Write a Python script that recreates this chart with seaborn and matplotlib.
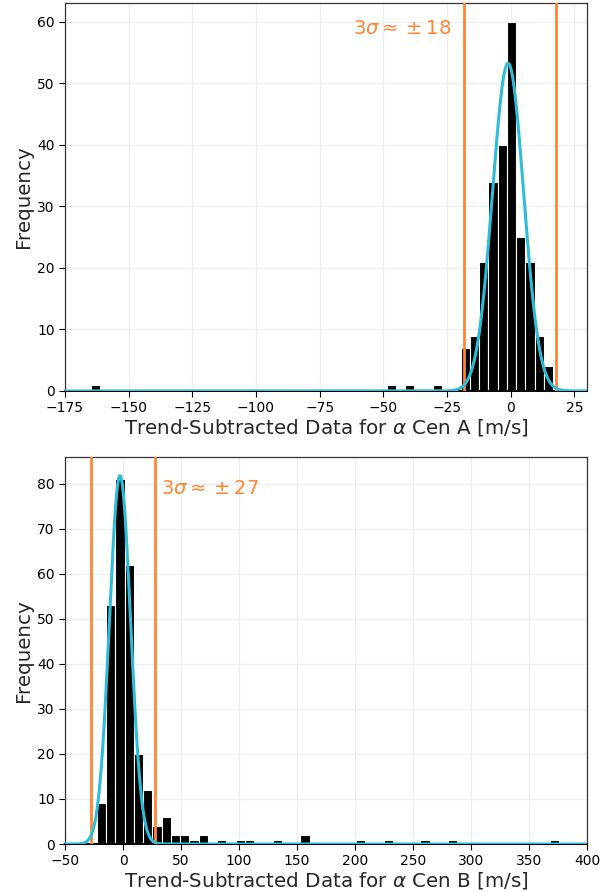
import numpy as np
import pandas as pd
import matplotlib
matplotlib.use('Agg')
import matplotlib.pyplot as plt
import seaborn as sns

# Histogram of trend-subtracted data, alpha Cen A (50 bins)
edges_a = np.linspace(-164.8, 16.7, 51)
counts_a = [1, 0, 0, 0, 0, 0, 0, 0, 0, 0,
            0, 0, 0, 0, 0, 0, 0, 0, 0, 0,
            0, 0, 0, 0, 0, 0, 0, 0, 0, 0,
            0, 0, 1, 0, 1, 0, 0, 1, 0, 0,
            7, 9, 21, 34, 40, 60, 25, 21, 9, 4]
fit_a = {'mu': -1.0, 'sigma': 6.1, 'amp': 53.2}
lines_a = [-18.4, 18.0]

# alpha Cen B (50 bins)
edges_b = np.linspace(-22.5, 376.0, 51)
counts_b = [9, 53, 81, 62, 20, 12, 4, 6, 2, 2,
            1, 2, 0, 1, 0, 1, 1, 0, 0, 1,
            0, 0, 2, 0, 0, 0, 0, 0, 1, 0,
            0, 1, 0, 0, 0, 1, 0, 0, 1, 0,
            0, 0, 0, 0, 0, 0, 0, 0, 0, 1]
fit_b = {'mu': -2.6, 'sigma': 9.1, 'amp': 81.8}
lines_b = [-27.6, 27.6]

orange = '#FF8533'
cyan = '#31BCD6'

sns.set_style('white')
plt.rcParams['font.family'] = ['DejaVu Sans']
plt.rcParams['mathtext.fontset'] = 'dejavusans'

fig = plt.figure(figsize=(6.15, 8.92), dpi=100)
ax1 = fig.add_axes([0.1057, 0.5617, 0.8488, 0.4349])
ax2 = fig.add_axes([0.1057, 0.0538, 0.8488, 0.4342])


def panel(ax, edges, counts, fit, lines, label, xlim, ylim, xticks, yticks):
    centers = (edges[:-1] + edges[1:]) / 2
    df = pd.DataFrame({'value': centers, 'count': counts})
    sns.histplot(data=df, x='value', weights='count', bins=list(edges), ax=ax,
                 color='black', edgecolor='white', linewidth=0.8, alpha=1,
                 zorder=2)
    xs = np.linspace(xlim[0], xlim[1], 1000)
    ys = fit['amp'] * np.exp(-0.5 * ((xs - fit['mu']) / fit['sigma']) ** 2)
    sns.lineplot(x=xs, y=ys, ax=ax, color=cyan, linewidth=2.2, zorder=4)
    for xv in lines:
        ax.axvline(xv, color=orange, linewidth=2, zorder=3)
    ax.set_xlim(xlim)
    ax.set_ylim(ylim)
    ax.set_xticks(xticks)
    ax.set_yticks(yticks)
    ax.grid(True, color='#EEEEEE', linewidth=0.9, zorder=0)
    ax.set_axisbelow(True)
    for s in ax.spines.values():
        s.set_visible(True)
        s.set_color('#333333')
        s.set_linewidth(0.9)
    ax.spines['bottom'].set_color('black')
    ax.spines['bottom'].set_linewidth(1.4)
    ax.tick_params(direction='out', length=4, width=0.8, labelsize=10,
                   bottom=True, left=True, colors='black')
    ax.set_xlabel(label, fontsize=14.3, labelpad=1)
    ax.set_ylabel('Frequency', fontsize=14.3, labelpad=3)


panel(ax1, edges_a, counts_a, fit_a, lines_a,
      r'Trend-Subtracted Data for $\alpha$ Cen A [m/s]',
      (-175, 30), (0, 63), np.arange(-175, 30, 25), np.arange(0, 61, 10))
ax1.text(-23.5, 58.8, r'$3\sigma \approx \pm 18$', color=orange, fontsize=14,
         ha='right', va='center')

panel(ax2, edges_b, counts_b, fit_b, lines_b,
      r'Trend-Subtracted Data for $\alpha$ Cen B [m/s]',
      (-50, 400), (0, 86), np.arange(-50, 401, 50), np.arange(0, 81, 10))
ax2.text(33.0, 79, r'$3\sigma \approx \pm 27$', color=orange, fontsize=14,
         ha='left', va='center')

fig.savefig('out.png', dpi=100)
